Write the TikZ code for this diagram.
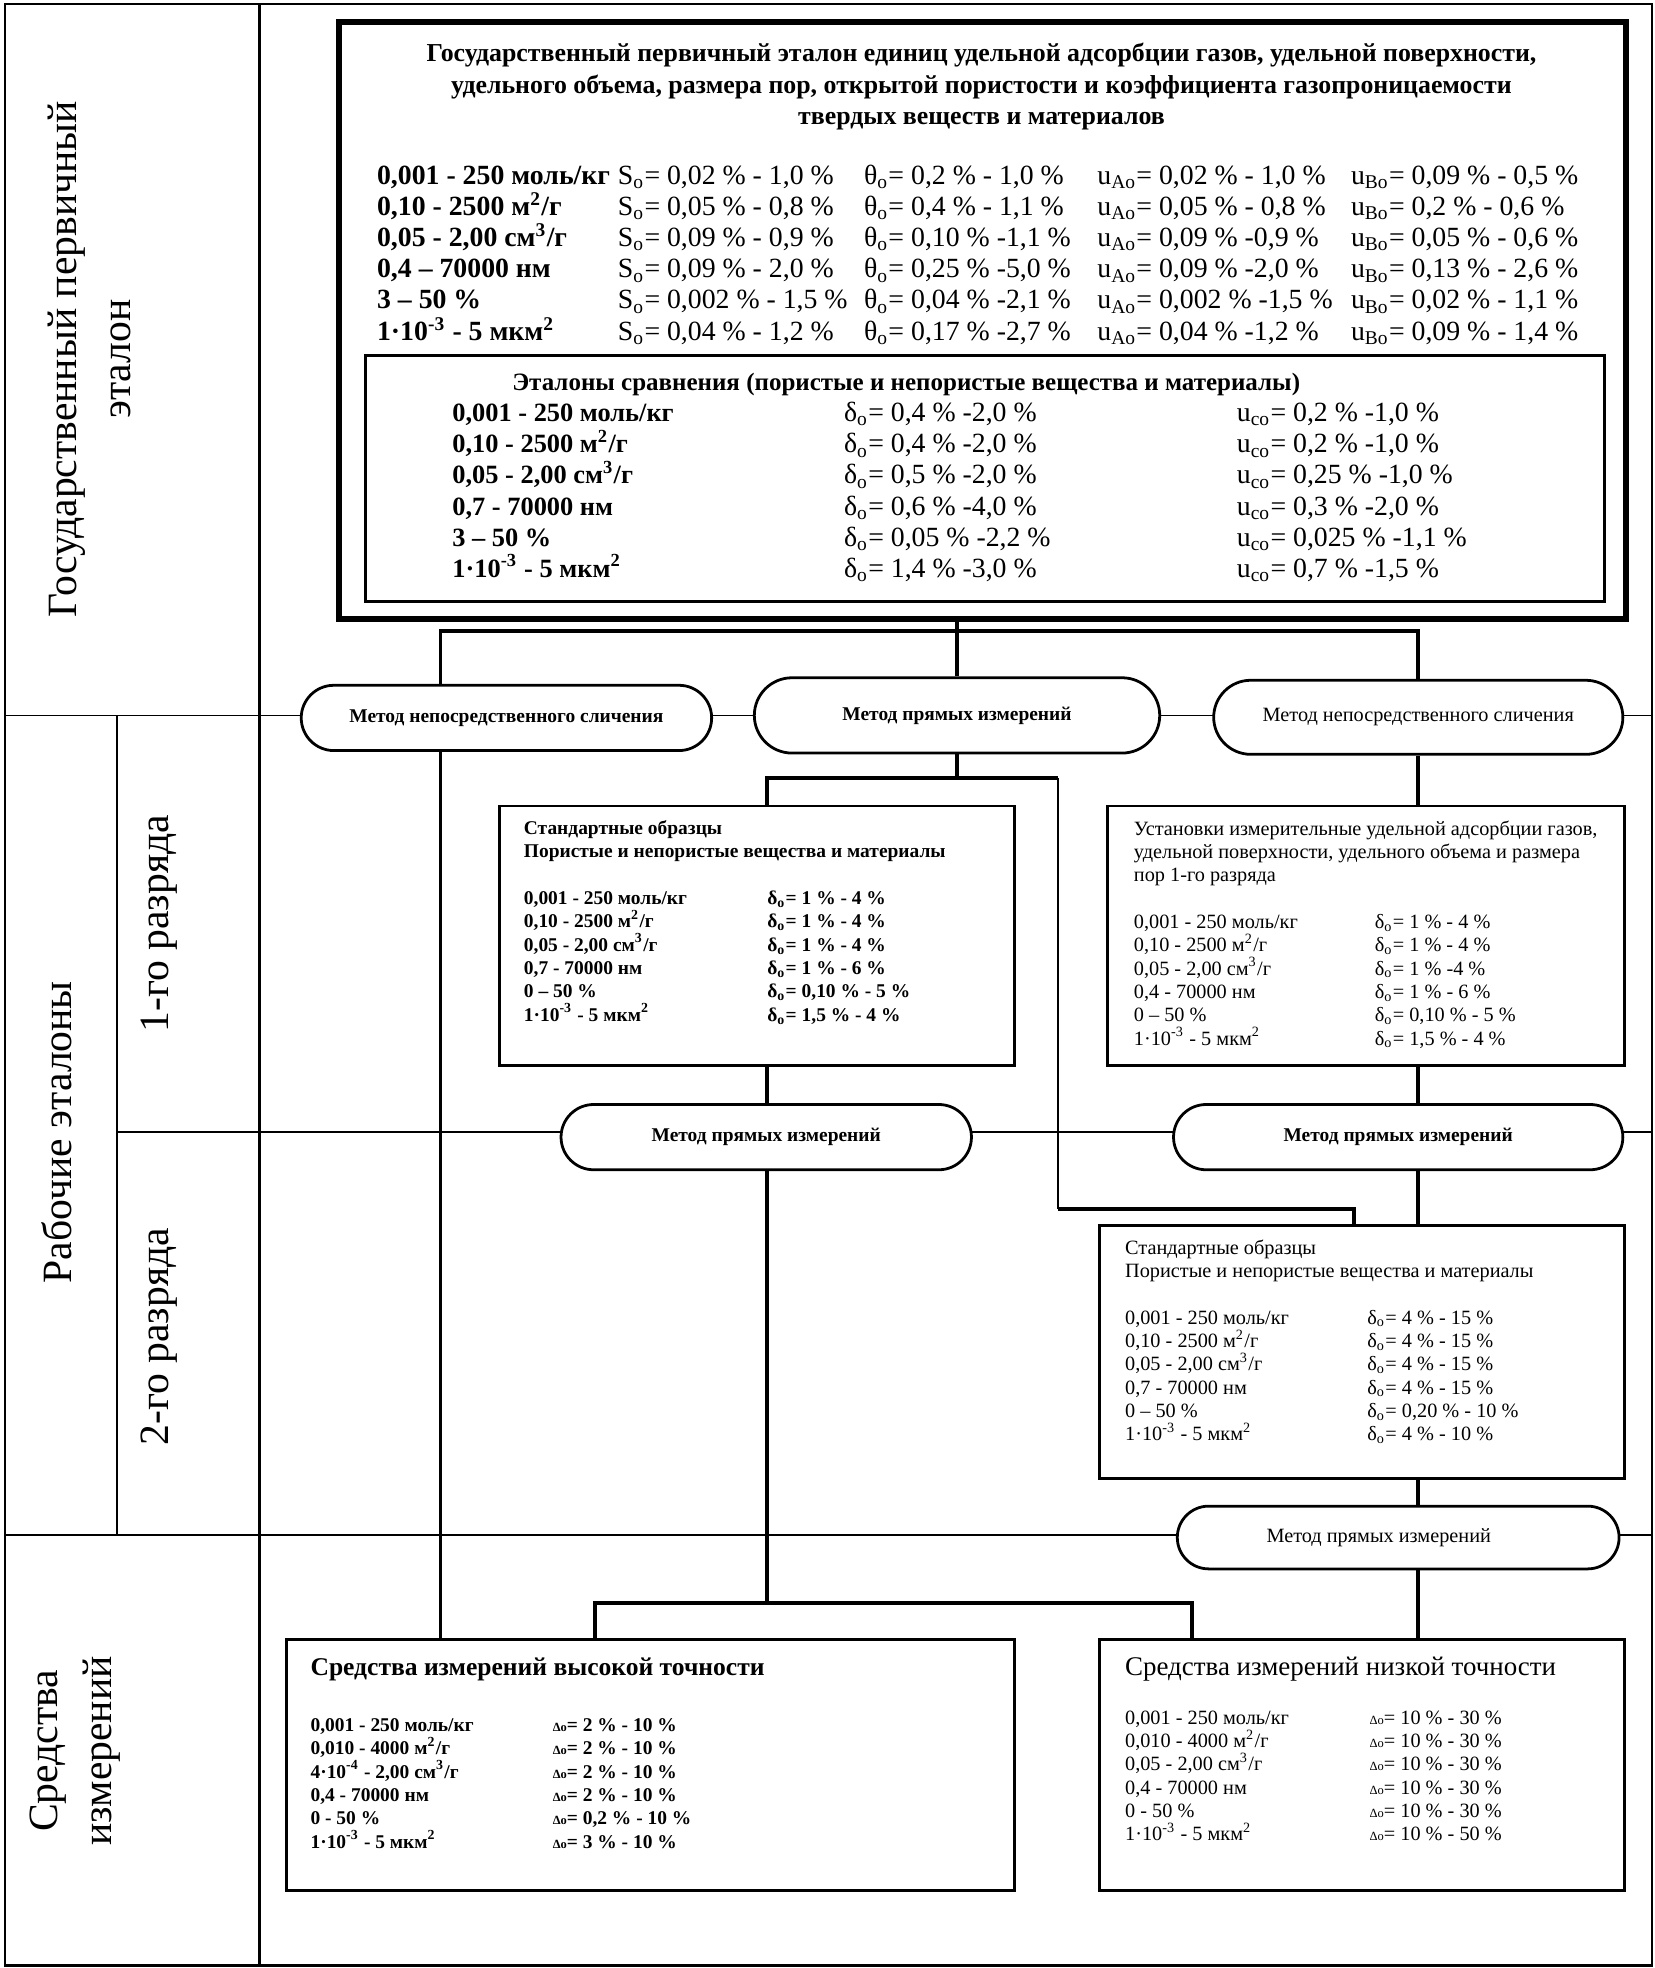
\documentclass[tikz,border=0pt]{standalone}
\usepackage{fontspec}
\setmainfont{Liberation Serif}
\usetikzlibrary{shapes.misc}
\newcommand\cl[2]{\makebox[#1][l]{#2}}
\newcommand\Sso{S\textsubscript{o}}
\newcommand\Tho{θ\textsubscript{o}}
\newcommand\uAo{u\textsubscript{Ao}}
\newcommand\uBo{u\textsubscript{Bo}}
\newcommand\Dlo{δ\textsubscript{o}}
\newcommand\uco{u\textsubscript{co}}
\newcommand\DDo{{\fontsize{4.5}{5}\selectfont Δo}}
\newcommand\mkbox[6]{\node[bx,#6,minimum width={(#4-#2)*0.4518pt},minimum height={(#5-#3)*0.4518pt}] (#1) at (#2,#3) {};}
\tikzset{
 frame/.style={line width=0.8pt},
 band/.style={line width=0.6pt},
 conn/.style={line width=1.4pt},
 thinconn/.style={line width=0.8pt},
 bx/.style={draw, line width=1pt, inner sep=0pt, anchor=north west, fill=white},
 stad/.style={draw, line width=1pt, rounded rectangle, fill=white, inner sep=0pt},
 lbl/.style={rotate=90, align=center, inner sep=0pt, font=\fontsize{15}{19.4}\selectfont},
 txt/.style={anchor=west, align=left, inner sep=0pt},
 small/.style={font=\fontsize{7.3}{8.4}\selectfont},
 smallb/.style={font=\bfseries\fontsize{7}{8.4}\selectfont},
 etb/.style={font=\bfseries\fontsize{7}{9}\selectfont},
 etr/.style={font=\fontsize{7.3}{9}\selectfont},
}
\begin{document}
\begin{tikzpicture}[x=0.4518pt,y=-0.4518pt]
\useasboundingbox (0,0) rectangle (1318,1568);
% frame and bands
\draw[frame] (4,3) rectangle (1316,1566);
\draw[line width=1pt] (207,3) -- (207,1566);
\draw[band] (4,570) -- (1316,570);
\draw[band] (93,570) -- (93,1223);
\draw[band] (93,902) -- (1316,902);
\draw[band] (4,1223) -- (1316,1223);
% left labels
\node[lbl] (L1) at (71,286) {Государственный первичный\\эталон};
\node[lbl] (L2) at (45,902) {Рабочие эталоны};
\node[lbl] (L3) at (127,736) {1-го разряда};
\node[lbl] (L4) at (127,1065) {2-го разряда};
\node[lbl] (L5) at (60,1395) {Средства\\измерений};
% boxes
\mkbox{TOP}{268}{15}{1293}{491}{line width=2.2pt}
\mkbox{INN}{290}{282}{1277}{478}{line width=1.1pt}
\mkbox{B1}{397}{641}{807}{848}{}
\mkbox{B2}{881}{641}{1293}{848}{}
\mkbox{B3}{875}{975}{1293}{1177}{}
\mkbox{HA}{227}{1305}{807}{1505}{}
\mkbox{LA}{875}{1305}{1293}{1505}{}
% stadiums
\node[stad,etb,minimum width={327*0.4518pt},minimum height={52*0.4518pt}] (E1) at (403.5,572) {Метод непосредственного сличения};
\node[stad,etb,minimum width={323*0.4518pt},minimum height={60*0.4518pt}] (E2) at (762.5,570) {Метод прямых измерений};
\node[stad,etr,minimum width={326*0.4518pt},minimum height={59*0.4518pt}] (E3) at (1130,571.5) {Метод непосредственного сличения};
\node[stad,etb,minimum width={327*0.4518pt},minimum height={52*0.4518pt}] (E4) at (610.5,906) {Метод прямых измерений};
\node[stad,etb,minimum width={358*0.4518pt},minimum height={52*0.4518pt}] (E5) at (1114,906) {Метод прямых измерений};
\node[stad,etr,minimum width={352*0.4518pt},minimum height={50*0.4518pt}] (E6) at (1114,1225) {\hspace*{-14pt}Метод прямых измерений};
% connectors
\coordinate (j1) at (351,503);
\coordinate (j4) at (611,620);
\coordinate (j5) at (843,620);
\coordinate (j6) at (1079,963);
\coordinate (j7) at (611,1277);
\coordinate (j8) at (474,1277);
\coordinate (j9) at (950,1277);
\draw[conn] (E2.north) -- (E2.north |- TOP.south);
\draw[conn] (j1 |- E1.north) -- (j1) -- (j1 -| E3.north) -- (E3.north);
\draw[conn] (j1 |- E1.south) -- (j1 |- HA.north);
\draw[conn] (E2.south) -- (E2.south |- j4);
\draw[conn] (j4 |- B1.north) -- (j4) -- (j5);
\draw[thinconn] (j5) -- (j5 |- j6);
\draw[conn] (j5 |- j6) -- (j6) -- (j6 |- B3.north);
\draw[conn] (j4 |- B1.south) -- (j4 |- E4.north);
\draw[conn] (j7 |- E4.south) -- (j7);
\draw[conn] (j8 |- HA.north) -- (j8) -- (j9) -- (j9 |- LA.north);
\draw[conn] (E3.south) -- (E3.south |- B2.north);
\draw[conn] (E3.south |- B2.south) -- (E3.south |- E5.north);
\draw[conn] (E3.south |- E5.south) -- (E3.south |- B3.north);
\draw[conn] (E3.south |- B3.south) -- (E3.south |- E6.north);
\draw[conn] (E3.south |- E6.south) -- (E3.south |- LA.north);
% top box text
\node[align=center, inner sep=0pt, font=\bfseries\fontsize{9.3}{11.3}\selectfont] (T0) at (782,69)
 {Государственный первичный эталон единиц удельной адсорбции газов, удельной поверхности,\\
  удельного объема, размера пор, открытой пористости и коэффициента газопроницаемости\\
  твердых веществ и материалов};
\node[txt, font=\fontsize{10}{11.2}\selectfont] (T1) at (300,203) {%
\cl{86.7pt}{\bfseries 0,001 - 250 моль/кг}\cl{88.6pt}{\Sso= 0,02 \% - 1,0 \%}\cl{84pt}{\Tho= 0,2 \% - 1,0 \%}\cl{91.3pt}{\uAo = 0,02 \% - 1,0 \%}\uBo = 0,09 \% - 0,5 \%\\
\cl{86.7pt}{\bfseries 0,10 - 2500 м\textsuperscript{2}/г}\cl{88.6pt}{\Sso= 0,05 \% - 0,8 \%}\cl{84pt}{\Tho= 0,4 \% - 1,1 \%}\cl{91.3pt}{\uAo = 0,05 \% - 0,8 \%}\uBo = 0,2 \% - 0,6 \%\\
\cl{86.7pt}{\bfseries 0,05 - 2,00 см\textsuperscript{3}/г}\cl{88.6pt}{\Sso= 0,09 \% - 0,9 \%}\cl{84pt}{\Tho= 0,10 \% -1,1 \%}\cl{91.3pt}{\uAo = 0,09 \% -0,9 \%}\uBo = 0,05 \% - 0,6 \%\\
\cl{86.7pt}{\bfseries 0,4 – 70000 нм}\cl{88.6pt}{\Sso= 0,09 \% - 2,0 \%}\cl{84pt}{\Tho= 0,25 \% -5,0 \%}\cl{91.3pt}{\uAo = 0,09 \% -2,0 \%}\uBo = 0,13 \% - 2,6 \%\\
\cl{86.7pt}{\bfseries 3 – 50 \%}\cl{88.6pt}{\Sso= 0,002 \% - 1,5 \%}\cl{84pt}{\Tho= 0,04 \% -2,1 \%}\cl{91.3pt}{\uAo = 0,002 \% -1,5 \%}\uBo = 0,02 \% - 1,1 \%\\
\cl{86.7pt}{\bfseries 1·10\textsuperscript{-3} - 5 мкм\textsuperscript{2}}\cl{88.6pt}{\Sso= 0,04 \% - 1,2 \%}\cl{84pt}{\Tho= 0,17 \% -2,7 \%}\cl{91.3pt}{\uAo = 0,04 \% -1,2 \%}\uBo = 0,09 \% - 1,4 \%};
\node[inner sep=0pt, font=\bfseries\fontsize{9}{11.3}\selectfont] (I0) at (722,306)
 {Эталоны сравнения (пористые и непористые вещества и материалы)};
\node[txt, font=\fontsize{10}{11.2}\selectfont] (I1) at (360,392) {%
\cl{141pt}{\bfseries\fontsize{9.5}{11.2}\selectfont 0,001 - 250 моль/кг}\cl{141.4pt}{\Dlo = 0,4 \% -2,0 \%}\uco= 0,2 \% -1,0 \%\\
\cl{141pt}{\bfseries\fontsize{9.5}{11.2}\selectfont 0,10 - 2500 м\textsuperscript{2}/г}\cl{141.4pt}{\Dlo = 0,4 \% -2,0 \%}\uco= 0,2 \% -1,0 \%\\
\cl{141pt}{\bfseries\fontsize{9.5}{11.2}\selectfont 0,05 - 2,00 см\textsuperscript{3}/г}\cl{141.4pt}{\Dlo = 0,5 \% -2,0 \%}\uco= 0,25 \% -1,0 \%\\
\cl{141pt}{\bfseries\fontsize{9.5}{11.2}\selectfont 0,7 - 70000 нм}\cl{141.4pt}{\Dlo = 0,6 \% -4,0 \%}\uco= 0,3 \% -2,0 \%\\
\cl{141pt}{\bfseries\fontsize{9.5}{11.2}\selectfont 3 – 50 \%}\cl{141.4pt}{\Dlo = 0,05 \% -2,2 \%}\uco= 0,025 \% -1,1 \%\\
\cl{141pt}{\bfseries\fontsize{9.5}{11.2}\selectfont 1·10\textsuperscript{-3} - 5 мкм\textsuperscript{2}}\cl{141.4pt}{\Dlo = 1,4 \% -3,0 \%}\uco= 0,7 \% -1,5 \%};
% B1
\node[txt, smallb] (B1t) at (417,735) {%
Стандартные образцы\\
Пористые и непористые вещества и материалы\\[8.4pt]
\cl{87.6pt}{0,001 - 250 моль/кг}\Dlo = 1 \% - 4 \%\\
\cl{87.6pt}{0,10 - 2500 м\textsuperscript{2}/г}\Dlo = 1 \% - 4 \%\\
\cl{87.6pt}{0,05 - 2,00 см\textsuperscript{3}/г}\Dlo = 1 \% - 4 \%\\
\cl{87.6pt}{0,7 - 70000 нм}\Dlo = 1 \% - 6 \%\\
\cl{87.6pt}{0 – 50 \%}\Dlo = 0,10 \% - 5 \%\\
\cl{87.6pt}{1·10\textsuperscript{-3} - 5 мкм\textsuperscript{2}}\Dlo = 1,5 \% - 4 \%};
% B2
\node[txt, small] (B2t) at (903,744.5) {%
Установки измерительные удельной адсорбции газов,\\
удельной поверхности, удельного объема и размера\\
пор 1-го разряда\\[8.4pt]
\cl{86.7pt}{0,001 - 250 моль/кг}\Dlo = 1 \% - 4 \%\\
\cl{86.7pt}{0,10 - 2500 м\textsuperscript{2}/г}\Dlo = 1 \% - 4 \%\\
\cl{86.7pt}{0,05 - 2,00 см\textsuperscript{3}/г}\Dlo = 1 \% -4 \%\\
\cl{86.7pt}{0,4 - 70000 нм}\Dlo = 1 \% - 6 \%\\
\cl{86.7pt}{0 – 50 \%}\Dlo = 0,10 \% - 5 \%\\
\cl{86.7pt}{1·10\textsuperscript{-3} - 5 мкм\textsuperscript{2}}\Dlo = 1,5 \% - 4 \%};
% B3
\node[txt, small] (B3t) at (896,1069) {%
Стандартные образцы\\
Пористые и непористые вещества и материалы\\[8.4pt]
\cl{87.2pt}{0,001 - 250 моль/кг}\Dlo = 4 \% - 15 \%\\
\cl{87.2pt}{0,10 - 2500 м\textsuperscript{2}/г}\Dlo = 4 \% - 15 \%\\
\cl{87.2pt}{0,05 - 2,00 см\textsuperscript{3}/г}\Dlo = 4 \% - 15 \%\\
\cl{87.2pt}{0,7 - 70000 нм}\Dlo = 4 \% - 15 \%\\
\cl{87.2pt}{0 – 50 \%}\Dlo = 0,20 \% - 10 \%\\
\cl{87.2pt}{1·10\textsuperscript{-3} - 5 мкм\textsuperscript{2}}\Dlo = 4 \% - 10 \%};
% HA
\node[txt, font=\bfseries\fontsize{9.2}{11}\selectfont] (HAt) at (247,1330) {Средства измерений высокой точности};
\node[txt, smallb] (HAr) at (247,1421) {%
\cl{87.2pt}{0,001 - 250 моль/кг}\DDo= 2 \% - 10 \%\\
\cl{87.2pt}{0,010 - 4000 м\textsuperscript{2}/г}\DDo = 2 \% - 10 \%\\
\cl{87.2pt}{4·10\textsuperscript{-4} - 2,00 см\textsuperscript{3}/г}\DDo = 2 \% - 10 \%\\
\cl{87.2pt}{0,4 - 70000 нм}\DDo = 2 \% - 10 \%\\
\cl{87.2pt}{0 - 50 \%}\DDo = 0,2 \% - 10 \%\\
\cl{87.2pt}{1·10\textsuperscript{-3} - 5 мкм\textsuperscript{2}}\DDo = 3 \% - 10 \%};
% LA
\node[txt, font=\fontsize{9.7}{11}\selectfont] (LAt) at (896,1330) {Средства измерений низкой точности};
\node[txt, small] (LAr) at (896,1415) {%
\cl{88pt}{0,001 - 250 моль/кг}\DDo = 10 \% - 30 \%\\
\cl{88pt}{0,010 - 4000 м\textsuperscript{2}/г}\DDo = 10 \% - 30 \%\\
\cl{88pt}{0,05 - 2,00 см\textsuperscript{3}/г}\DDo = 10 \% - 30 \%\\
\cl{88pt}{0,4 - 70000 нм}\DDo = 10 \% - 30 \%\\
\cl{88pt}{0 - 50 \%}\DDo = 10 \% - 30 \%\\
\cl{88pt}{1·10\textsuperscript{-3} - 5 мкм\textsuperscript{2}}\DDo = 10 \% - 50 \%};
\end{tikzpicture}
\end{document}
